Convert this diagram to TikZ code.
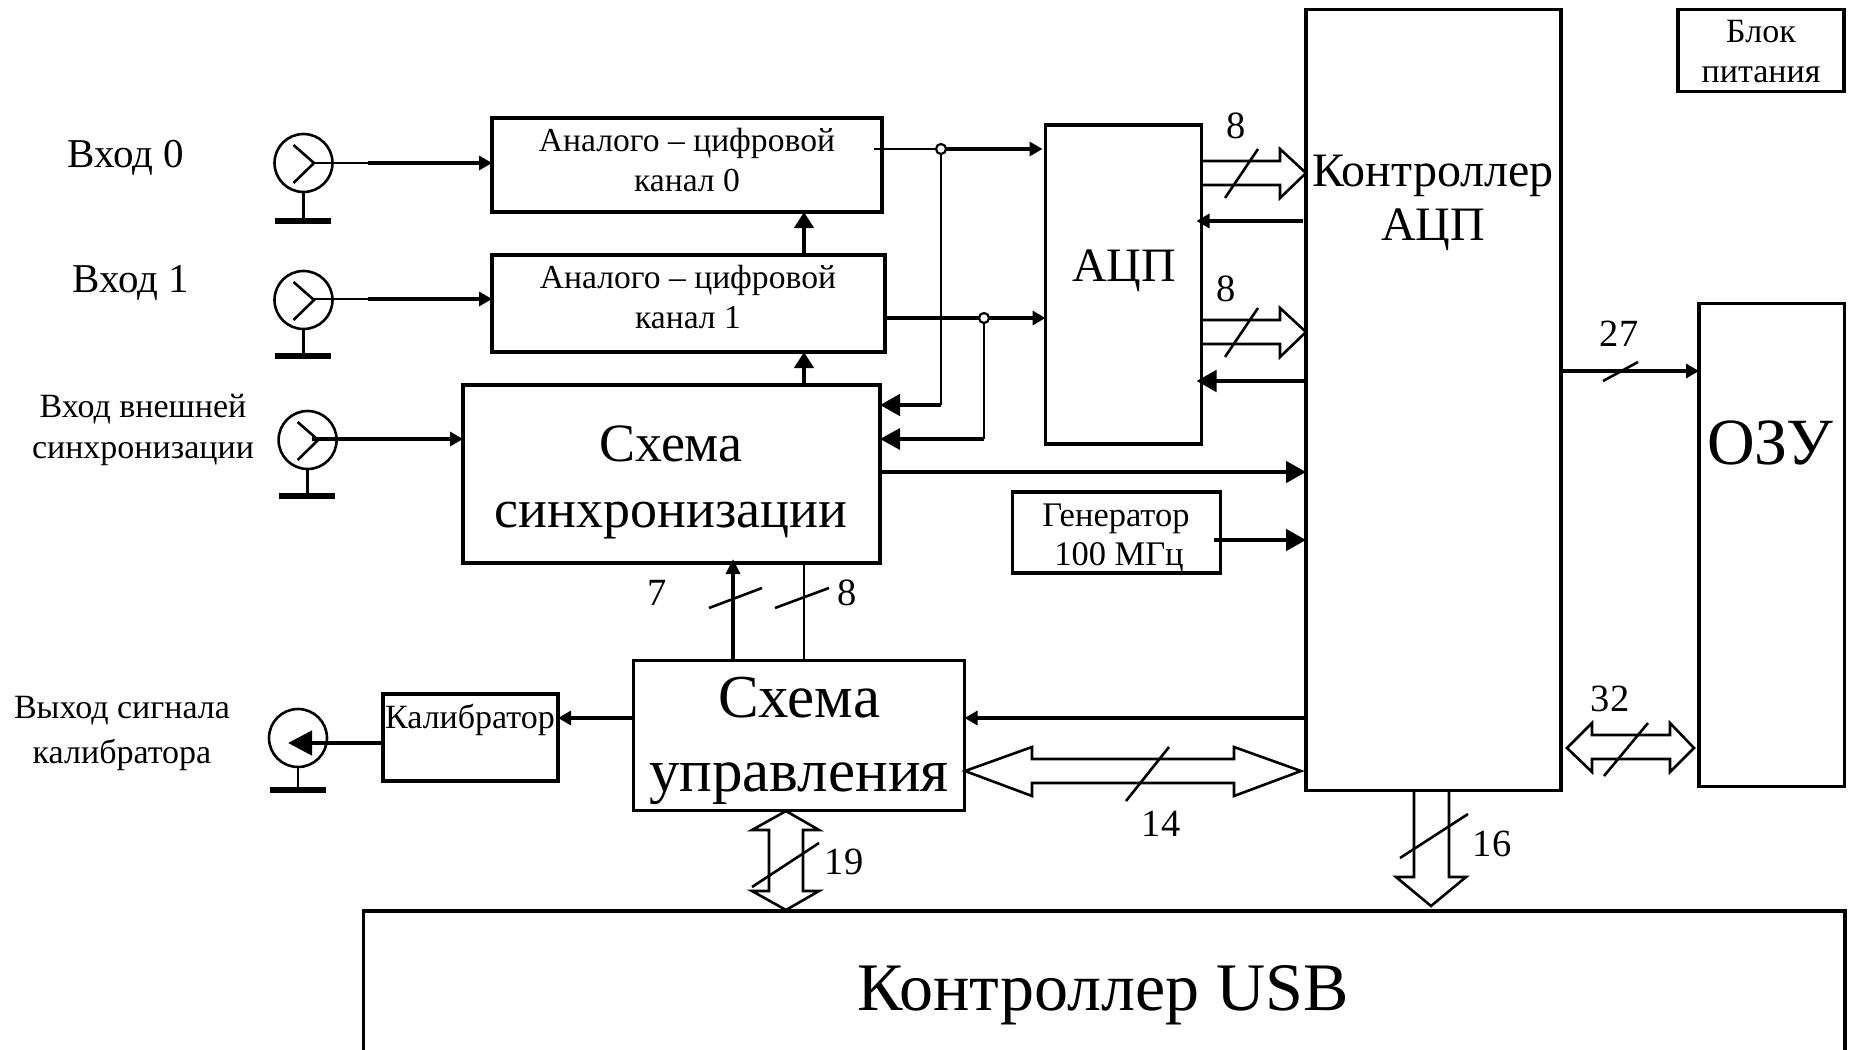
\documentclass[tikz,border=0pt]{standalone}
\usepackage{fontspec}
\setmainfont{Liberation Serif}
\usetikzlibrary{arrows.meta,calc}
\newcommand{\fsz}[2]{\fontsize{#1pt}{#2pt}\selectfont}
\tikzset{
  box/.style={draw,line width=3.2pt,inner sep=0pt,outer sep=0pt,anchor=north west,fill=none},
  txt/.style={inner sep=0pt,outer sep=0pt,align=center,text=black},
  small/.style={txt,font=\fsz{33.6}{40}},
  num/.style={txt,font=\fsz{38.5}{44}},
  thinl/.style={line width=2.6pt},
  midl/.style={line width=3.4pt},
  heavy/.style={line width=4.6pt},
  ant/.style={circle,draw,line width=2.6pt,minimum size=58pt,inner sep=0pt,outer sep=0pt},
  bar/.style={line width=6pt},
  jn/.style={circle,draw,fill=white,line width=2.2pt,minimum size=10pt,inner sep=0pt,outer sep=0pt},
  bus/.style={line width=2.6pt,line join=miter,fill=white},
  slash/.style={line width=2.6pt},
  tipS/.style={-{Triangle[length=13pt,width=14pt]}},
  tipM/.style={-{Triangle[length=16pt,width=19pt]}},
  tipL/.style={-{Triangle[length=20pt,width=21pt]}},
}
\begin{document}
\begin{tikzpicture}[x=1pt,y=-1pt]
\clip (0,0) rectangle (1849,1049);
% blocks
\node[box,minimum width=390pt,minimum height=94pt] (ch0) at (492,118) {};
\node[box,minimum width=393pt,minimum height=97pt] (ch1) at (492,255) {};
\node[box,minimum width=417pt,minimum height=178pt] (sync) at (463,385) {};
\node[box,minimum width=156pt,minimum height=319pt] (adc) at (1045.5,125) {};
\node[box,minimum width=255pt,minimum height=781pt] (cadc) at (1306,9.5) {};
\node[box,minimum width=166pt,minimum height=82pt] (pwr) at (1678,9.5) {};
\node[box,minimum width=145.5pt,minimum height=483pt] (ram) at (1699,303.5) {};
\node[box,minimum width=208pt,minimum height=81pt] (gen) at (1012.5,492) {};
\node[box,minimum width=175pt,minimum height=87pt] (cal) at (383,694) {};
\node[box,minimum width=331pt,minimum height=150pt] (ctl) at (633.5,660.5) {};
\node[box,minimum width=1481.5pt,minimum height=160pt] (usb) at (363.5,911) {};
% block texts
\node[small] (t0) at (687,160) {Аналого – цифровой\\канал 0};
\node[small] (t1) at (688,297) {Аналого – цифровой\\канал 1};
\node[txt,font=\fsz{54}{66}] (t2) at (671,482) {Схема\\синхронизации};
\node[txt,font=\fsz{48}{54}] (t3) at (1124,271) {АЦП};
\node[txt,font=\fsz{48}{54}] (t4) at (1433,203) {Контроллер\\АЦП};
\node[txt,font=\fsz{34}{40}] (t5) at (1761,52) {Блок\\питания};
\node[txt,font=\fsz{66}{70}] (t6) at (1770,443) {ОЗУ};
\node[txt,font=\fsz{34.5}{39}] (t7) at (1116,538) {Генератор\\\hspace*{6pt}100 МГц};
\node[txt,font=\fsz{34}{40}] (t8) at (470,720) {Калибратор};
\node[txt,font=\fsz{61}{74}] (t9) at (799,741) {Схема\\управления};
\node[txt,font=\fsz{68}{70}] (t10) at (1103,995) {Контроллер USB};
% outer labels
\node[txt,font=\fsz{41}{44}] (l0) at (126,158) {Вход 0};
\node[txt,font=\fsz{41}{44}] (l1) at (131,283) {Вход 1};
\node[txt,font=\fsz{34}{41}] (l2) at (143,430) {Вход внешней\\синхронизации};
\node[txt,font=\fsz{34}{45}] (l3) at (122,733) {Выход сигнала\\калибратора};
% sockets
\node[ant] (a0) at (303.5,163) {};
\node[ant] (a1) at (303.5,300) {};
\node[ant] (a2) at (307.6,440) {};
\node[ant] (a3) at (298,738) {};
\foreach \a/\yb in {a0/58,a1/56,a2/56}{
  \draw[thinl] ([shift={(-10,-18)}]\a.center) -- ([shift={(10.5,0)}]\a.center) -- ([shift={(-10,20)}]\a.center);
  \draw[thinl] (\a.south) -- ([shift={(0,\yb)}]\a.center);
  \draw[bar] ([shift={(-29,\yb)}]\a.center) -- ([shift={(27,\yb)}]\a.center);
}
\draw[thinl] (a3.south) -- ([shift={(0,52)}]a3.center);
\draw[bar] ([shift={(-28.5,52)}]a3.center) -- ([shift={(28,52)}]a3.center);
% inputs
\coordinate (p0) at (368,163);
\coordinate (p1) at (368,299);
\draw[thinl] ([shift={(10.5,0)}]a0.center) -- (p0);
\draw[heavy,tipS] (p0) -- (ch0.west |- p0);
\draw[thinl] ([shift={(10.5,-1)}]a1.center) -- (p1);
\draw[heavy,tipS] (p1) -- (ch1.west |- p1);
\coordinate (p2) at (312,439);
\draw[heavy,tipS] (p2) -- (sync.west |- p2);
% calibrator
\coordinate (c3) at (288,743);
\draw[heavy,-{Triangle[length=24pt,width=24pt]}] (cal.west |- c3) -- (c3);
\coordinate (c4) at (600,718);
\draw[heavy,tipS] (ctl.west |- c4) -- (cal.east |- c4);
% channel junctions
\coordinate (j0) at (941,149);
\coordinate (j1) at (984,318);
\coordinate (s0) at (941,405);
\coordinate (s1) at (984,439);
\draw[thinl] ([xshift=-8pt]ch0.east |- j0) -- (j0);
\draw[heavy,tipS,shorten >=3pt] (j0) -- (adc.west |- j0);
\draw[midl,tipS] (ch1.east |- j1) -- (adc.west |- j1);
\draw[thinl] (j0) -- (s0);
\draw[thinl] (j1) -- (s1);
\draw[heavy,tipL] (s0) -- (sync.east |- s0);
\draw[midl,tipL] (s1) -- (sync.east |- s1);
\node[jn] (jn0) at (j0) {};
\node[jn] (jn1) at (j1) {};
% vertical links between blocks
\draw[heavy,tipM] (ch1.north -| 804,0) -- (ch0.south -| 804,0);
\draw[heavy,tipM] (sync.north -| 804,0) -- (ch1.south -| 804,0);
% to ADC controller
\coordinate (k0) at (1250,472);
\coordinate (k1) at (1214,540);
\draw[heavy,tipL] (sync.east |- k0) -- (cadc.west |- k0);
\draw[heavy,tipL] (k1) -- (cadc.west |- k1);
\coordinate (r0) at (1250,221);
\coordinate (r1) at (1250,381);
\draw[heavy,tipS,shorten <=3pt,shorten >=-5pt] (cadc.west |- r0) -- (adc.east |- r0);
\draw[heavy,tipL,shorten >=-5pt] (cadc.west |- r1) -- (adc.east |- r1);
% ADC buses
\draw[bus,fill=none] (adc.east |- 0,161) -- (1280,161) -- (1280,149) -- (cadc.west |- 0,173) -- (1280,198) -- (1280,185) -- (adc.east |- 0,185);
\draw[slash] (1225,198) -- (1258,149);
\node[num] (n8a) at (1236,126) {8};
\draw[bus,fill=none] (adc.east |- 0,320) -- (1280,320) -- (1280,308) -- (cadc.west |- 0,332) -- (1280,357) -- (1280,344) -- (adc.east |- 0,344);
\draw[slash] (1225,357) -- (1258,308);
\node[num] (n8b) at (1226,289) {8};
% to RAM
\coordinate (m0) at (1630,371);
\draw[midl,tipS] (cadc.east |- m0) -- (ram.west |- m0);
\draw[slash] (1603,381) -- (1638,362);
\node[num] (n27) at (1619,334) {27};
% 32 bus
\draw[bus,fill=none] (1567,748) -- (1592,723) -- (1592,735) -- (1670,735) -- (1670,723) -- (1694,748) -- (1670,772) -- (1670,759) -- (1592,759) -- (1592,772) -- cycle;
\draw[slash] (1604,776) -- (1648,723);
\node[num] (n32) at (1610,699) {32};
% 16 bus
\draw[bus,fill=none] (cadc.south -| 1414,0) -- (1414,877) -- (1396,877) -- (1431,906) -- (1466,877) -- (1449,877) -- (cadc.south -| 1449,0);
\draw[slash] (1400,858) -- (1468,814);
\node[num] (n16) at (1492,844) {16};
% sync <- control
\coordinate (v7) at (733,600);
\coordinate (v8) at (804,600);
\draw[midl,-{Triangle[length=15pt,width=14pt]},shorten >=-4pt] (ctl.north -| v7) -- (sync.south -| v7);
\draw[thinl] (ctl.north -| v8) -- (sync.south -| v8);
\draw[slash] (709,608) -- (762,588);
\draw[slash] (775,608) -- (829,588);
\node[num] (n7) at (657,593) {7};
\node[num] (n8c) at (847,593) {8};
% ADC controller to control
\coordinate (w0) at (1200,718);
\draw[heavy,tipS] (cadc.west |- w0) -- (ctl.east |- w0);
% 14 bus
\draw[bus,fill=none] (965,771) -- (1032,747) -- (1032,759) -- (1234,759) -- (1234,747) -- (1301,771) -- (1234,796) -- (1234,783) -- (1032,783) -- (1032,796) -- cycle;
\draw[slash] (1126,801) -- (1169,747);
\node[num] (n14) at (1161,824) {14};
% 19 bus
\draw[bus,fill=none] (786,811) -- (819,830) -- (803,830) -- (803,891) -- (819,891) -- (786,910) -- (752,891) -- (769,891) -- (769,830) -- (752,830) -- cycle;
\draw[slash] (752,887) -- (819,843);
\node[num] (n19) at (844,862) {19};
\end{tikzpicture}
\end{document}
